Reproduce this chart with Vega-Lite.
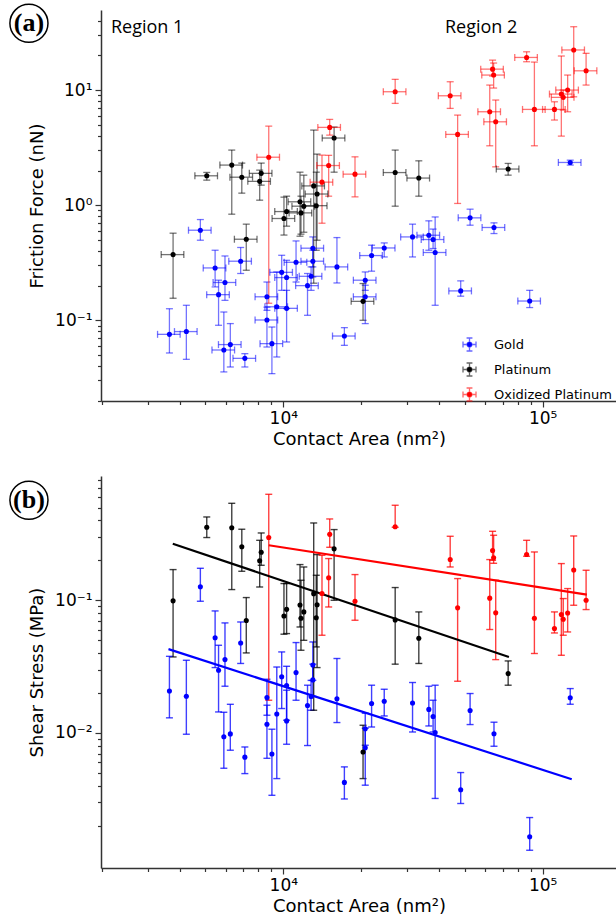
{
  "$schema": "https://vega.github.io/schema/vega-lite/v6.json",
  "padding": {"left": 6, "top": 1, "right": 0, "bottom": 0},
  "autosize": {"type": "pad"},
  "spacing": 75,
  "bounds": "flush",
  "config": {
    "view": {"stroke": null},
    "axis": {"labelFont": "DejaVu Sans", "labelFontSize": 17, "titleFont": "DejaVu Sans", "titleFontSize": 18, "titleFontWeight": "normal", "labelColor": "black", "titleColor": "black", "domainColor": "#333333", "domainWidth": 1.5, "tickColor": "#333333", "tickWidth": 1.2, "grid": false}
  },
  "resolve": {"scale": {"color": "independent"}, "legend": {"color": "independent"}},
  "datasets": {
    "pts": [
      {"g":"Gold","A":4790,"Alo":4311,"Ahi":5269,"F":0.606,"Flo":0.496,"Fhi":0.75,"T":0.1265,"Tlo":0.0983,"Thi":0.1742},
      {"g":"Gold","A":3640,"Alo":3276,"Ahi":4004,"F":0.0755,"Flo":0.052,"Fhi":0.126,"T":0.0207,"Tlo":0.013,"Thi":0.0378},
      {"g":"Gold","A":4230,"Alo":3807,"Ahi":4653,"F":0.0798,"Flo":0.0458,"Fhi":0.135,"T":0.0189,"Tlo":0.00978,"Thi":0.0353},
      {"g":"Gold","A":5460,"Alo":4914,"Ahi":6006,"F":0.285,"Flo":0.195,"Fhi":0.406,"T":0.0522,"Tlo":0.0311,"Thi":0.0831},
      {"g":"Gold","A":5960,"Alo":5364,"Ahi":6556,"F":0.213,"Flo":0.149,"Fhi":0.362,"T":0.0357,"Tlo":0.0225,"Thi":0.0675},
      {"g":"Gold","A":5630,"Alo":5067,"Ahi":6193,"F":0.167,"Flo":0.0905,"Fhi":0.223,"T":0.0297,"Tlo":0.0144,"Thi":0.0458},
      {"g":"Gold","A":6850,"Alo":6165,"Ahi":7535,"F":0.326,"Flo":0.255,"Fhi":0.429,"T":0.0476,"Tlo":0.0334,"Thi":0.0686},
      {"g":"Gold","A":6250,"Alo":5625,"Ahi":6875,"F":0.0615,"Flo":0.0393,"Fhi":0.0936,"T":0.00984,"Tlo":0.00741,"Thi":0.01644},
      {"g":"Gold","A":5900,"Alo":5310,"Ahi":6490,"F":0.0552,"Flo":0.0356,"Fhi":0.118,"T":0.00936,"Tlo":0.00542,"Thi":0.01432},
      {"g":"Gold","A":7110,"Alo":6399,"Ahi":7821,"F":0.0467,"Flo":0.0393,"Fhi":0.0513,"T":0.00657,"Tlo":0.00494,"Thi":0.00784},
      {"g":"Gold","A":8650,"Alo":7785,"Ahi":9515,"F":0.16,"Flo":0.122,"Fhi":0.215,"T":0.0185,"Tlo":0.0136,"Thi":0.0254},
      {"g":"Gold","A":8650,"Alo":7785,"Ahi":9515,"F":0.1006,"Flo":0.0586,"Fhi":0.13,"T":0.01163,"Tlo":0.00644,"Thi":0.01618},
      {"g":"Gold","A":9040,"Alo":8136,"Ahi":9944,"F":0.0627,"Flo":0.0344,"Fhi":0.0874,"T":0.00694,"Tlo":0.00339,"Thi":0.01067},
      {"g":"Gold","A":9440,"Alo":8496,"Ahi":10384,"F":0.131,"Flo":0.048,"Fhi":0.263,"T":0.01388,"Tlo":0.00453,"Thi":0.0314},
      {"g":"Gold","A":9860,"Alo":8874,"Ahi":10846,"F":0.261,"Flo":0.182,"Fhi":0.367,"T":0.0265,"Tlo":0.01528,"Thi":0.0408},
      {"g":"Gold","A":10300,"Alo":9270,"Ahi":11330,"F":0.235,"Flo":0.1264,"Fhi":0.332,"T":0.0228,"Tlo":0.01247,"Thi":0.0318},
      {"g":"Gold","A":10300,"Alo":9270,"Ahi":11330,"F":0.127,"Flo":0.0648,"Fhi":0.182,"T":0.01233,"Tlo":0.00822,"Thi":0.021},
      {"g":"Gold","A":11200,"Alo":10080,"Ahi":12320,"F":0.319,"Flo":0.215,"Fhi":0.489,"T":0.0285,"Tlo":0.01764,"Thi":0.048},
      {"g":"Gold","A":12400,"Alo":11160,"Ahi":13640,"F":0.2,"Flo":0.1105,"Fhi":0.255,"T":0.0161,"Tlo":0.00804,"Thi":0.0229},
      {"g":"Gold","A":12800,"Alo":11520,"Ahi":14080,"F":0.241,"Flo":0.182,"Fhi":0.291,"T":0.01883,"Tlo":0.01483,"Thi":0.0249},
      {"g":"Gold","A":13000,"Alo":11700,"Ahi":14300,"F":0.326,"Flo":0.238,"Fhi":0.406,"T":0.0251,"Tlo":0.0189,"Thi":0.033},
      {"g":"Gold","A":13000,"Alo":11700,"Ahi":14300,"F":0.423,"Flo":0.291,"Fhi":0.53,"T":0.0325,"Tlo":0.0249,"Thi":0.0485},
      {"g":"Gold","A":16100,"Alo":14490,"Ahi":17710,"F":0.291,"Flo":0.211,"Fhi":0.523,"T":0.0181,"Tlo":0.01198,"Thi":0.0364},
      {"g":"Gold","A":17200,"Alo":15480,"Ahi":18920,"F":0.073,"Flo":0.0606,"Fhi":0.0863,"T":0.00424,"Tlo":0.00318,"Thi":0.00555},
      {"g":"Gold","A":20700,"Alo":18630,"Ahi":22770,"F":0.223,"Flo":0.182,"Fhi":0.263,"T":0.01077,"Tlo":0.00808,"Thi":0.01408},
      {"g":"Gold","A":20700,"Alo":18630,"Ahi":22770,"F":0.16,"Flo":0.0936,"Fhi":0.2015,"T":0.00773,"Tlo":0.00404,"Thi":0.01085},
      {"g":"Gold","A":21900,"Alo":19710,"Ahi":24090,"F":0.365,"Flo":0.267,"Fhi":0.449,"T":0.01667,"Tlo":0.01109,"Thi":0.0229},
      {"g":"Gold","A":24500,"Alo":22050,"Ahi":26950,"F":0.425,"Flo":0.355,"Fhi":0.47,"T":0.01735,"Tlo":0.01343,"Thi":0.02135},
      {"g":"Gold","A":31500,"Alo":28350,"Ahi":34650,"F":0.53,"Flo":0.355,"Fhi":0.684,"T":0.01683,"Tlo":0.01017,"Thi":0.024},
      {"g":"Gold","A":36400,"Alo":32760,"Ahi":40040,"F":0.548,"Flo":0.406,"Fhi":0.731,"T":0.01505,"Tlo":0.01129,"Thi":0.0225},
      {"g":"Gold","A":37800,"Alo":34020,"Ahi":41580,"F":0.503,"Flo":0.42,"Fhi":0.62,"T":0.0133,"Tlo":0.01017,"Thi":0.01764},
      {"g":"Gold","A":38500,"Alo":34650,"Ahi":42350,"F":0.388,"Flo":0.135,"Fhi":0.79,"T":0.01008,"Tlo":0.00321,"Thi":0.0229},
      {"g":"Gold","A":52500,"Alo":47250,"Ahi":57750,"F":0.776,"Flo":0.67,"Fhi":0.923,"T":0.01478,"Tlo":0.01157,"Thi":0.01982},
      {"g":"Gold","A":64900,"Alo":58410,"Ahi":71390,"F":0.64,"Flo":0.567,"Fhi":0.702,"T":0.00986,"Tlo":0.00794,"Thi":0.01205},
      {"g":"Gold","A":48300,"Alo":43470,"Ahi":53130,"F":0.18,"Flo":0.162,"Fhi":0.22,"T":0.00373,"Tlo":0.00294,"Thi":0.00503},
      {"g":"Gold","A":89100,"Alo":80190,"Ahi":98010,"F":0.147,"Flo":0.129,"Fhi":0.182,"T":0.00165,"Tlo":0.001306,"Thi":0.002304},
      {"g":"Gold","A":127700,"Alo":114930,"Ahi":140470,"F":2.35,"Flo":2.23,"Fhi":2.46,"T":0.0184,"Tlo":0.01646,"Thi":0.0216},
      {"g":"Platinum","A":5070,"Alo":4563,"Ahi":5577,"F":1.8,"Flo":1.65,"Fhi":1.925,"T":0.355,"Tlo":0.297,"Thi":0.4244},
      {"g":"Platinum","A":6330,"Alo":5697,"Ahi":6963,"F":2.23,"Flo":0.835,"Fhi":3.01,"T":0.352,"Tlo":0.1204,"Thi":0.538},
      {"g":"Platinum","A":6920,"Alo":6228,"Ahi":7612,"F":1.75,"Flo":1.272,"Fhi":2.32,"T":0.253,"Tlo":0.1654,"Thi":0.343},
      {"g":"Platinum","A":8220,"Alo":7398,"Ahi":9042,"F":1.89,"Flo":1.493,"Fhi":2.32,"T":0.23,"Tlo":0.1835,"Thi":0.3215},
      {"g":"Platinum","A":8110,"Alo":7299,"Ahi":8921,"F":1.61,"Flo":1.105,"Fhi":2.016,"T":0.1985,"Tlo":0.1259,"Thi":0.283},
      {"g":"Platinum","A":15700,"Alo":14130,"Ahi":17270,"F":3.83,"Flo":1.935,"Fhi":4.77,"T":0.244,"Tlo":0.1,"Thi":0.341},
      {"g":"Platinum","A":13100,"Alo":11790,"Ahi":14410,"F":1.47,"Flo":0.21,"Fhi":4.49,"T":0.1122,"Tlo":0.01483,"Thi":0.3824},
      {"g":"Platinum","A":13500,"Alo":12150,"Ahi":14850,"F":1.25,"Flo":0.496,"Fhi":2.777,"T":0.0926,"Tlo":0.0311,"Thi":0.221},
      {"g":"Platinum","A":11600,"Alo":10440,"Ahi":12760,"F":1.07,"Flo":0.5375,"Fhi":1.935,"T":0.0922,"Tlo":0.0629,"Thi":0.1858},
      {"g":"Platinum","A":12000,"Alo":10800,"Ahi":13200,"F":0.98,"Flo":0.582,"Fhi":1.823,"T":0.0817,"Tlo":0.0499,"Thi":0.1782},
      {"g":"Platinum","A":13400,"Alo":12060,"Ahi":14740,"F":0.99,"Flo":0.406,"Fhi":1.935,"T":0.0739,"Tlo":0.0445,"Thi":0.1543},
      {"g":"Platinum","A":10300,"Alo":9270,"Ahi":11330,"F":0.88,"Flo":0.657,"Fhi":1.197,"T":0.0854,"Tlo":0.0561,"Thi":0.1337},
      {"g":"Platinum","A":10060,"Alo":9054,"Ahi":11066,"F":0.766,"Flo":0.55,"Fhi":1.174,"T":0.0761,"Tlo":0.0555,"Thi":0.1337},
      {"g":"Platinum","A":11700,"Alo":10530,"Ahi":12870,"F":0.857,"Flo":0.56,"Fhi":1.197,"T":0.0732,"Tlo":0.042,"Thi":0.1415},
      {"g":"Platinum","A":7200,"Alo":6480,"Ahi":7920,"F":0.506,"Flo":0.272,"Fhi":0.684,"T":0.0703,"Tlo":0.0401,"Thi":0.1048},
      {"g":"Platinum","A":3760,"Alo":3384,"Ahi":4136,"F":0.372,"Flo":0.1554,"Fhi":0.571,"T":0.099,"Tlo":0.0374,"Thi":0.1703},
      {"g":"Platinum","A":20300,"Alo":18270,"Ahi":22330,"F":0.146,"Flo":0.1,"Fhi":0.2086,"T":0.00719,"Tlo":0.00453,"Thi":0.01143},
      {"g":"Platinum","A":27000,"Alo":24300,"Ahi":29700,"F":1.92,"Flo":0.98,"Fhi":3.01,"T":0.0711,"Tlo":0.033,"Thi":0.1247},
      {"g":"Platinum","A":33300,"Alo":29970,"Ahi":36630,"F":1.72,"Flo":1.197,"Fhi":2.428,"T":0.0517,"Tlo":0.0334,"Thi":0.0817},
      {"g":"Platinum","A":73600,"Alo":66240,"Ahi":80960,"F":2.06,"Flo":1.823,"Fhi":2.305,"T":0.028,"Tlo":0.0229,"Thi":0.0349},
      {"g":"Oxidized Platinum","A":8790,"Alo":7911,"Ahi":9669,"F":2.61,"Flo":0.1406,"Fhi":4.86,"T":0.297,"Tlo":0.01764,"Thi":0.629},
      {"g":"Oxidized Platinum","A":15100,"Alo":13590,"Ahi":16610,"F":4.74,"Flo":4.06,"Fhi":5.56,"T":0.314,"Tlo":0.2508,"Thi":0.41},
      {"g":"Oxidized Platinum","A":14960,"Alo":13464,"Ahi":16456,"F":2.21,"Flo":1.197,"Fhi":2.71,"T":0.1477,"Tlo":0.089,"Thi":0.2062},
      {"g":"Oxidized Platinum","A":14100,"Alo":12690,"Ahi":15510,"F":1.585,"Flo":0.697,"Fhi":2.72,"T":0.1124,"Tlo":0.0545,"Thi":0.2183},
      {"g":"Oxidized Platinum","A":18900,"Alo":17010,"Ahi":20790,"F":1.86,"Flo":1.181,"Fhi":2.63,"T":0.0984,"Tlo":0.0707,"Thi":0.1562},
      {"g":"Oxidized Platinum","A":27000,"Alo":24300,"Ahi":29700,"F":9.67,"Flo":7.66,"Fhi":12.39,"T":0.358,"Tlo":0.3549,"Thi":0.52},
      {"g":"Oxidized Platinum","A":44000,"Alo":39600,"Ahi":48400,"F":8.92,"Flo":6.93,"Fhi":11.81,"T":0.203,"Tlo":0.1782,"Thi":0.3036},
      {"g":"Oxidized Platinum","A":47000,"Alo":42300,"Ahi":51700,"F":4.12,"Flo":1.035,"Fhi":6.06,"T":0.0877,"Tlo":0.02453,"Thi":0.1457},
      {"g":"Oxidized Platinum","A":64100,"Alo":57690,"Ahi":70510,"F":15.2,"Flo":13.23,"Fhi":18.2,"T":0.237,"Tlo":0.2001,"Thi":0.331},
      {"g":"Oxidized Platinum","A":64700,"Alo":58230,"Ahi":71170,"F":13.5,"Flo":10.41,"Fhi":17.17,"T":0.2087,"Tlo":0.19,"Thi":0.309},
      {"g":"Oxidized Platinum","A":62500,"Alo":56250,"Ahi":68750,"F":6.48,"Flo":3.28,"Fhi":11.05,"T":0.1037,"Tlo":0.0602,"Thi":0.2026},
      {"g":"Oxidized Platinum","A":65900,"Alo":59310,"Ahi":72490,"F":5.3,"Flo":2.153,"Fhi":8.19,"T":0.0804,"Tlo":0.0357,"Thi":0.1415},
      {"g":"Oxidized Platinum","A":86700,"Alo":78030,"Ahi":95370,"F":19.2,"Flo":17.62,"Fhi":21.5,"T":0.2215,"Tlo":0.2146,"Thi":0.283},
      {"g":"Oxidized Platinum","A":92900,"Alo":83610,"Ahi":102190,"F":6.79,"Flo":3.28,"Fhi":17.5,"T":0.0731,"Tlo":0.0397,"Thi":0.2312},
      {"g":"Oxidized Platinum","A":111000,"Alo":99900,"Ahi":122100,"F":6.79,"Flo":5.49,"Fhi":7.91,"T":0.0612,"Tlo":0.0567,"Thi":0.0817},
      {"g":"Oxidized Platinum","A":118000,"Alo":106200,"Ahi":129800,"F":9.23,"Flo":3.98,"Fhi":19.76,"T":0.0782,"Tlo":0.0385,"Thi":0.189},
      {"g":"Oxidized Platinum","A":120000,"Alo":108000,"Ahi":132000,"F":8.64,"Flo":6.7,"Fhi":10.0,"T":0.072,"Tlo":0.0545,"Thi":0.103},
      {"g":"Oxidized Platinum","A":124800,"Alo":112320,"Ahi":137280,"F":10.0,"Flo":6.48,"Fhi":13.5,"T":0.0801,"Tlo":0.0577,"Thi":0.1225},
      {"g":"Oxidized Platinum","A":131700,"Alo":118530,"Ahi":144870,"F":22.3,"Flo":8.74,"Fhi":35.5,"T":0.169,"Tlo":0.0917,"Thi":0.3052},
      {"g":"Oxidized Platinum","A":147000,"Alo":132300,"Ahi":161700,"F":14.7,"Flo":11.05,"Fhi":20.85,"T":0.1,"Tlo":0.0851,"Thi":0.1683}
    ],
    "fits": [
      {"g":"Gold","A":3610,"T":0.0428},
      {"g":"Gold","A":129400,"T":0.00448},
      {"g":"Platinum","A":3750,"T":0.267},
      {"g":"Platinum","A":74100,"T":0.0374},
      {"g":"Oxidized Platinum","A":8790,"T":0.2598},
      {"g":"Oxidized Platinum","A":148000,"T":0.1104}
    ]
  },
  "vconcat": [
    {
      "width": 516,
      "height": 391,
      "layer": [
        {
          "data": {"name": "pts"},
          "mark": {"type": "errorbar", "ticks": {"size": 7, "thickness": 1.3, "opacity": 0.55}, "rule": {"strokeWidth": 1.3, "opacity": 0.55}},
          "encoding": {
            "x": {"field": "A", "type": "quantitative", "title": "Contact Area (nm²)", "scale": {"type": "log", "domain": [1983, 193400], "nice": false}},
            "y": {"field": "Flo", "type": "quantitative", "title": "Friction Force (nN)", "scale": {"type": "log", "domain": [0.0199, 49.6], "nice": false}},
            "y2": {"field": "Fhi", "title": "Friction Force (nN)"},
            "color": {"field": "g", "type": "nominal", "scale": {"domain": ["Gold", "Platinum", "Oxidized Platinum"], "range": ["#0000ff", "#000000", "#ff0000"]}}
          }
        },
        {
          "data": {"name": "pts"},
          "mark": {"type": "errorbar", "ticks": {"size": 7, "thickness": 1.3, "opacity": 0.55}, "rule": {"strokeWidth": 1.3, "opacity": 0.55}},
          "encoding": {
            "y": {"field": "F", "type": "quantitative", "title": "Friction Force (nN)", "scale": {"type": "log", "domain": [0.0199, 49.6], "nice": false}},
            "x": {"field": "Alo", "type": "quantitative", "title": "Contact Area (nm²)", "scale": {"type": "log", "domain": [1983, 193400], "nice": false}},
            "x2": {"field": "Ahi", "title": "Contact Area (nm²)"},
            "color": {"field": "g", "type": "nominal", "scale": {"domain": ["Gold", "Platinum", "Oxidized Platinum"], "range": ["#0000ff", "#000000", "#ff0000"]}}
          }
        },
        {
          "data": {"name": "pts"},
          "mark": {"type": "point", "filled": true, "size": 26, "opacity": 1},
          "encoding": {
            "x": {"field": "A", "type": "quantitative", "title": "Contact Area (nm²)", "scale": {"type": "log", "domain": [1983, 193400], "nice": false},
              "axis": {"title": "Contact Area (nm²)", "values": [2000,3000,4000,5000,6000,7000,8000,9000,10000,20000,30000,40000,50000,60000,70000,80000,90000,100000],
                "labelExpr": "datum.value == 10000 ? '10⁴' : datum.value == 100000 ? '10⁵' : ''",
                "tickSize": {"condition": {"test": "datum.value == 10000 || datum.value == 100000", "value": 6}, "value": 3.5},
                "labelOverlap": false, "labelFlush": false, "labelPadding": 3, "titlePadding": 4}},
            "y": {"field": "F", "type": "quantitative", "title": "Friction Force (nN)", "scale": {"type": "log", "domain": [0.0199, 49.6], "nice": false},
              "axis": {"title": "Friction Force (nN)", "values": [0.02,0.03,0.04,0.05,0.06,0.07,0.08,0.09,0.1,0.2,0.3,0.4,0.5,0.6,0.7,0.8,0.9,1,2,3,4,5,6,7,8,9,10,20,30,40],
                "labelExpr": "datum.value == 0.1 ? '10⁻¹' : datum.value == 1 ? '10⁰' : datum.value == 10 ? '10¹' : ''",
                "tickSize": {"condition": {"test": "datum.value == 0.1 || datum.value == 1 || datum.value == 10", "value": 6}, "value": 3.5},
                "labelOverlap": false, "labelPadding": 3, "titlePadding": 8}},
            "color": {"field": "g", "type": "nominal", "scale": {"domain": ["Gold", "Platinum", "Oxidized Platinum"], "range": ["#0000ff", "#000000", "#ff0000"]},
              "legend": {"orient": "none", "legendX": 361, "legendY": 327, "title": null, "padding": 0,
                "symbolType": "M0,-1L0,1M-0.45,-1L0.45,-1M-0.45,1L0.45,1M-1,0L1,0M-1,-0.45L-1,0.45M1,-0.45L1,0.45M0.38,0A0.38,0.38 0 1 1 -0.38,0A0.38,0.38 0 1 1 0.38,0Z",
                "symbolSize": 169, "symbolStrokeWidth": 1.3, "symbolOpacity": 1,
                "labelFont": "DejaVu Sans", "labelFontSize": 13, "labelColor": "black", "labelOffset": 17, "rowPadding": 6,
                "encode": {"symbols": {"update": {"stroke": {"signal": "datum.value === 'Gold' ? '#0000ff' : datum.value === 'Platinum' ? '#000000' : '#ff0000'"}, "strokeOpacity": {"value": 0.6}}}}}}
          }
        },
        {
          "mark": {"type": "rule", "color": "black", "strokeWidth": 1.5, "strokeDash": [4, 2.5]},
          "encoding": {"x": {"datum": 38500, "type": "quantitative"}}
        },
        {
          "mark": {"type": "rule", "color": "#333333", "strokeWidth": 1.5},
          "encoding": {"y": {"datum": 49.6, "type": "quantitative"}}
        },
        {
          "data": {"values": [{"A": 2167, "F": 31.1, "t": "Region 1"}, {"A": 42020, "F": 31.1, "t": "Region 2"}]},
          "mark": {"type": "text", "align": "left", "baseline": "alphabetic", "font": "Open Sans", "fontSize": 18, "color": "black"},
          "encoding": {
            "x": {"field": "A", "type": "quantitative", "title": "Contact Area (nm²)"},
            "y": {"field": "F", "type": "quantitative", "title": "Friction Force (nN)"},
            "text": {"field": "t"}
          }
        },
        {
          "data": {"values": [{"A": 1046, "F": 38.0, "t": "(a)"}]},
          "mark": {"type": "point", "shape": "circle", "size": 1450, "filled": false, "stroke": "black", "strokeWidth": 1.5, "opacity": 1},
          "encoding": {
            "x": {"field": "A", "type": "quantitative", "title": "Contact Area (nm²)"},
            "y": {"field": "F", "type": "quantitative", "title": "Friction Force (nN)"}
          }
        },
        {
          "data": {"values": [{"A": 1046, "F": 38.0, "t": "(a)"}]},
          "mark": {"type": "text", "align": "center", "baseline": "middle", "font": "Liberation Serif", "fontWeight": "bold", "fontSize": 26, "color": "black"},
          "encoding": {
            "x": {"field": "A", "type": "quantitative", "title": "Contact Area (nm²)"},
            "y": {"field": "F", "type": "quantitative", "title": "Friction Force (nN)"},
            "text": {"field": "t"}
          }
        }
      ]
    },
    {
      "width": 516,
      "height": 392,
      "layer": [
        {
          "data": {"name": "pts"},
          "mark": {"type": "errorbar", "ticks": {"size": 7, "thickness": 1.4, "opacity": 0.75}, "rule": {"strokeWidth": 1.4, "opacity": 0.75}},
          "encoding": {
            "x": {"field": "A", "type": "quantitative", "title": "Contact Area (nm²)", "scale": {"type": "log", "domain": [1983, 193400], "nice": false}},
            "y": {"field": "Tlo", "type": "quantitative", "title": "Shear Stress (MPa)", "scale": {"type": "log", "domain": [0.00096, 0.864], "nice": false}},
            "y2": {"field": "Thi", "title": "Shear Stress (MPa)"},
            "color": {"field": "g", "type": "nominal", "scale": {"domain": ["Gold", "Platinum", "Oxidized Platinum"], "range": ["#0000ff", "#000000", "#ff0000"]}, "legend": null}
          }
        },
        {
          "data": {"name": "fits"},
          "mark": {"type": "line", "strokeWidth": 2.2},
          "encoding": {
            "x": {"field": "A", "type": "quantitative", "title": "Contact Area (nm²)"},
            "y": {"field": "T", "type": "quantitative", "title": "Shear Stress (MPa)"},
            "color": {"field": "g", "type": "nominal", "scale": {"domain": ["Gold", "Platinum", "Oxidized Platinum"], "range": ["#0000ff", "#000000", "#ff0000"]}, "legend": null}
          }
        },
        {
          "data": {"name": "pts"},
          "mark": {"type": "point", "filled": true, "size": 26, "opacity": 1},
          "encoding": {
            "x": {"field": "A", "type": "quantitative", "title": "Contact Area (nm²)", "scale": {"type": "log", "domain": [1983, 193400], "nice": false},
              "axis": {"title": "Contact Area (nm²)", "values": [2000,3000,4000,5000,6000,7000,8000,9000,10000,20000,30000,40000,50000,60000,70000,80000,90000,100000],
                "labelExpr": "datum.value == 10000 ? '10⁴' : datum.value == 100000 ? '10⁵' : ''",
                "tickSize": {"condition": {"test": "datum.value == 10000 || datum.value == 100000", "value": 6}, "value": 3.5},
                "labelOverlap": false, "labelFlush": false, "labelPadding": 3, "titlePadding": 4}},
            "y": {"field": "T", "type": "quantitative", "title": "Shear Stress (MPa)", "scale": {"type": "log", "domain": [0.00096, 0.864], "nice": false},
              "axis": {"title": "Shear Stress (MPa)", "values": [0.002,0.003,0.004,0.005,0.006,0.007,0.008,0.009,0.01,0.02,0.03,0.04,0.05,0.06,0.07,0.08,0.09,0.1,0.2,0.3,0.4,0.5,0.6,0.7,0.8],
                "labelExpr": "datum.value == 0.01 ? '10⁻²' : datum.value == 0.1 ? '10⁻¹' : ''",
                "tickSize": {"condition": {"test": "datum.value == 0.01 || datum.value == 0.1", "value": 6}, "value": 3.5},
                "labelOverlap": false, "labelPadding": 3, "titlePadding": 8}},
            "color": {"field": "g", "type": "nominal", "scale": {"domain": ["Gold", "Platinum", "Oxidized Platinum"], "range": ["#0000ff", "#000000", "#ff0000"]}, "legend": null}
          }
        },
        {
          "mark": {"type": "rule", "color": "#333333", "strokeWidth": 1.5},
          "encoding": {"y": {"datum": 0.864, "type": "quantitative"}}
        },
        {
          "data": {"values": [{"A": 1046, "T": 0.567, "t": "(b)"}]},
          "mark": {"type": "point", "shape": "circle", "size": 1450, "filled": false, "stroke": "black", "strokeWidth": 1.5, "opacity": 1},
          "encoding": {
            "x": {"field": "A", "type": "quantitative", "title": "Contact Area (nm²)"},
            "y": {"field": "T", "type": "quantitative", "title": "Shear Stress (MPa)"}
          }
        },
        {
          "data": {"values": [{"A": 1046, "T": 0.567, "t": "(b)"}]},
          "mark": {"type": "text", "align": "center", "baseline": "middle", "font": "Liberation Serif", "fontWeight": "bold", "fontSize": 26, "color": "black"},
          "encoding": {
            "x": {"field": "A", "type": "quantitative", "title": "Contact Area (nm²)"},
            "y": {"field": "T", "type": "quantitative", "title": "Shear Stress (MPa)"},
            "text": {"field": "t"}
          }
        }
      ]
    }
  ]
}
